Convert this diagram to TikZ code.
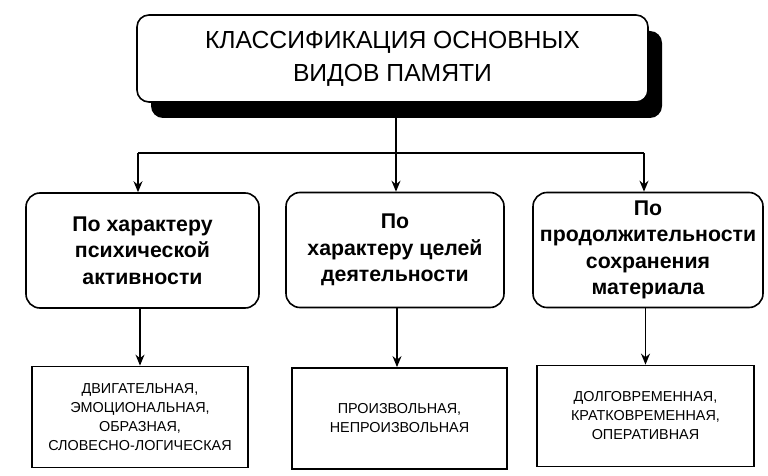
\documentclass[tikz,border=0pt]{standalone}
\usepackage{fontspec}
\setmainfont{Liberation Sans}
\usetikzlibrary{positioning,arrows.meta,shadows}

\tikzset{
  titlebox/.style={draw, line width=1.6pt, rounded corners=12pt, fill=white,
    minimum width=511pt, minimum height=87pt, align=center,
    font=\fontsize{24.7}{33}\selectfont,
    drop shadow={shadow xshift=14pt, shadow yshift=-16pt, fill=black, opacity=1}},
  kindbox/.style={draw, line width=1.6pt, rounded corners=14pt,
    minimum height=115pt, align=center, font=\bfseries\fontsize{21.3}{26.5}\selectfont},
  itembox/.style={draw, line width=1.8pt, minimum height=101pt, align=center,
    font=\fontsize{14.4}{19}\selectfont},
  link/.style={line width=1.4pt},
  arr/.style={link, -{Stealth[length=11pt,width=9pt]}}
}

\begin{document}
\begin{tikzpicture}[x=1pt,y=-1pt]
	\useasboundingbox (0,0) rectangle (768,476);

	\node[titlebox] (title) at (392.5,58.5) {КЛАССИФИКАЦИЯ ОСНОВНЫХ\\ВИДОВ ПАМЯТИ};

	\node[kindbox, minimum width=233pt] (activity) at (142.5,250.5) {По характеру\\психической\\активности};
	\node[kindbox, minimum width=218pt] (goals) at (395,250) {По\\характеру целей\\деятельности};
	\node[kindbox, minimum width=230pt] (duration) at (648,250) {По\\продолжительности\\сохранения\\материала};

	\node[itembox, minimum width=216pt] (motor) at (140,417) {ДВИГАТЕЛЬНАЯ,\\ЭМОЦИОНАЛЬНАЯ,\\ОБРАЗНАЯ,\\СЛОВЕСНО-ЛОГИЧЕСКАЯ};
	\node[itembox, minimum width=215pt] (voluntary) at (399.5,418.5) {ПРОИЗВОЛЬНАЯ,\\НЕПРОИЗВОЛЬНАЯ};
	\node[itembox, minimum width=217pt] (longterm) at (645.5,416) {ДОЛГОВРЕМЕННАЯ,\\КРАТКОВРЕМЕННАЯ,\\ОПЕРАТИВНАЯ};

	\coordinate (bus) at (396,153);
	\draw[link] (bus |- title.south) -- (bus);
	\draw[link] (bus -| 138,0) -- (bus -| 644,0);

	\draw[arr] (bus -| 138,0) -- (activity.north -| 138,0);
	\draw[arr] (bus) -- (goals.north -| bus);
	\draw[arr] (bus -| 644,0) -- (duration.north -| 644,0);

	\draw[arr] (activity.south -| motor) -- (motor);
	\draw[arr] (goals.south -| 397,0) -- (voluntary.north -| 397,0);
	\draw[arr] (duration.south -| longterm) -- (longterm);
\end{tikzpicture}
\end{document}
